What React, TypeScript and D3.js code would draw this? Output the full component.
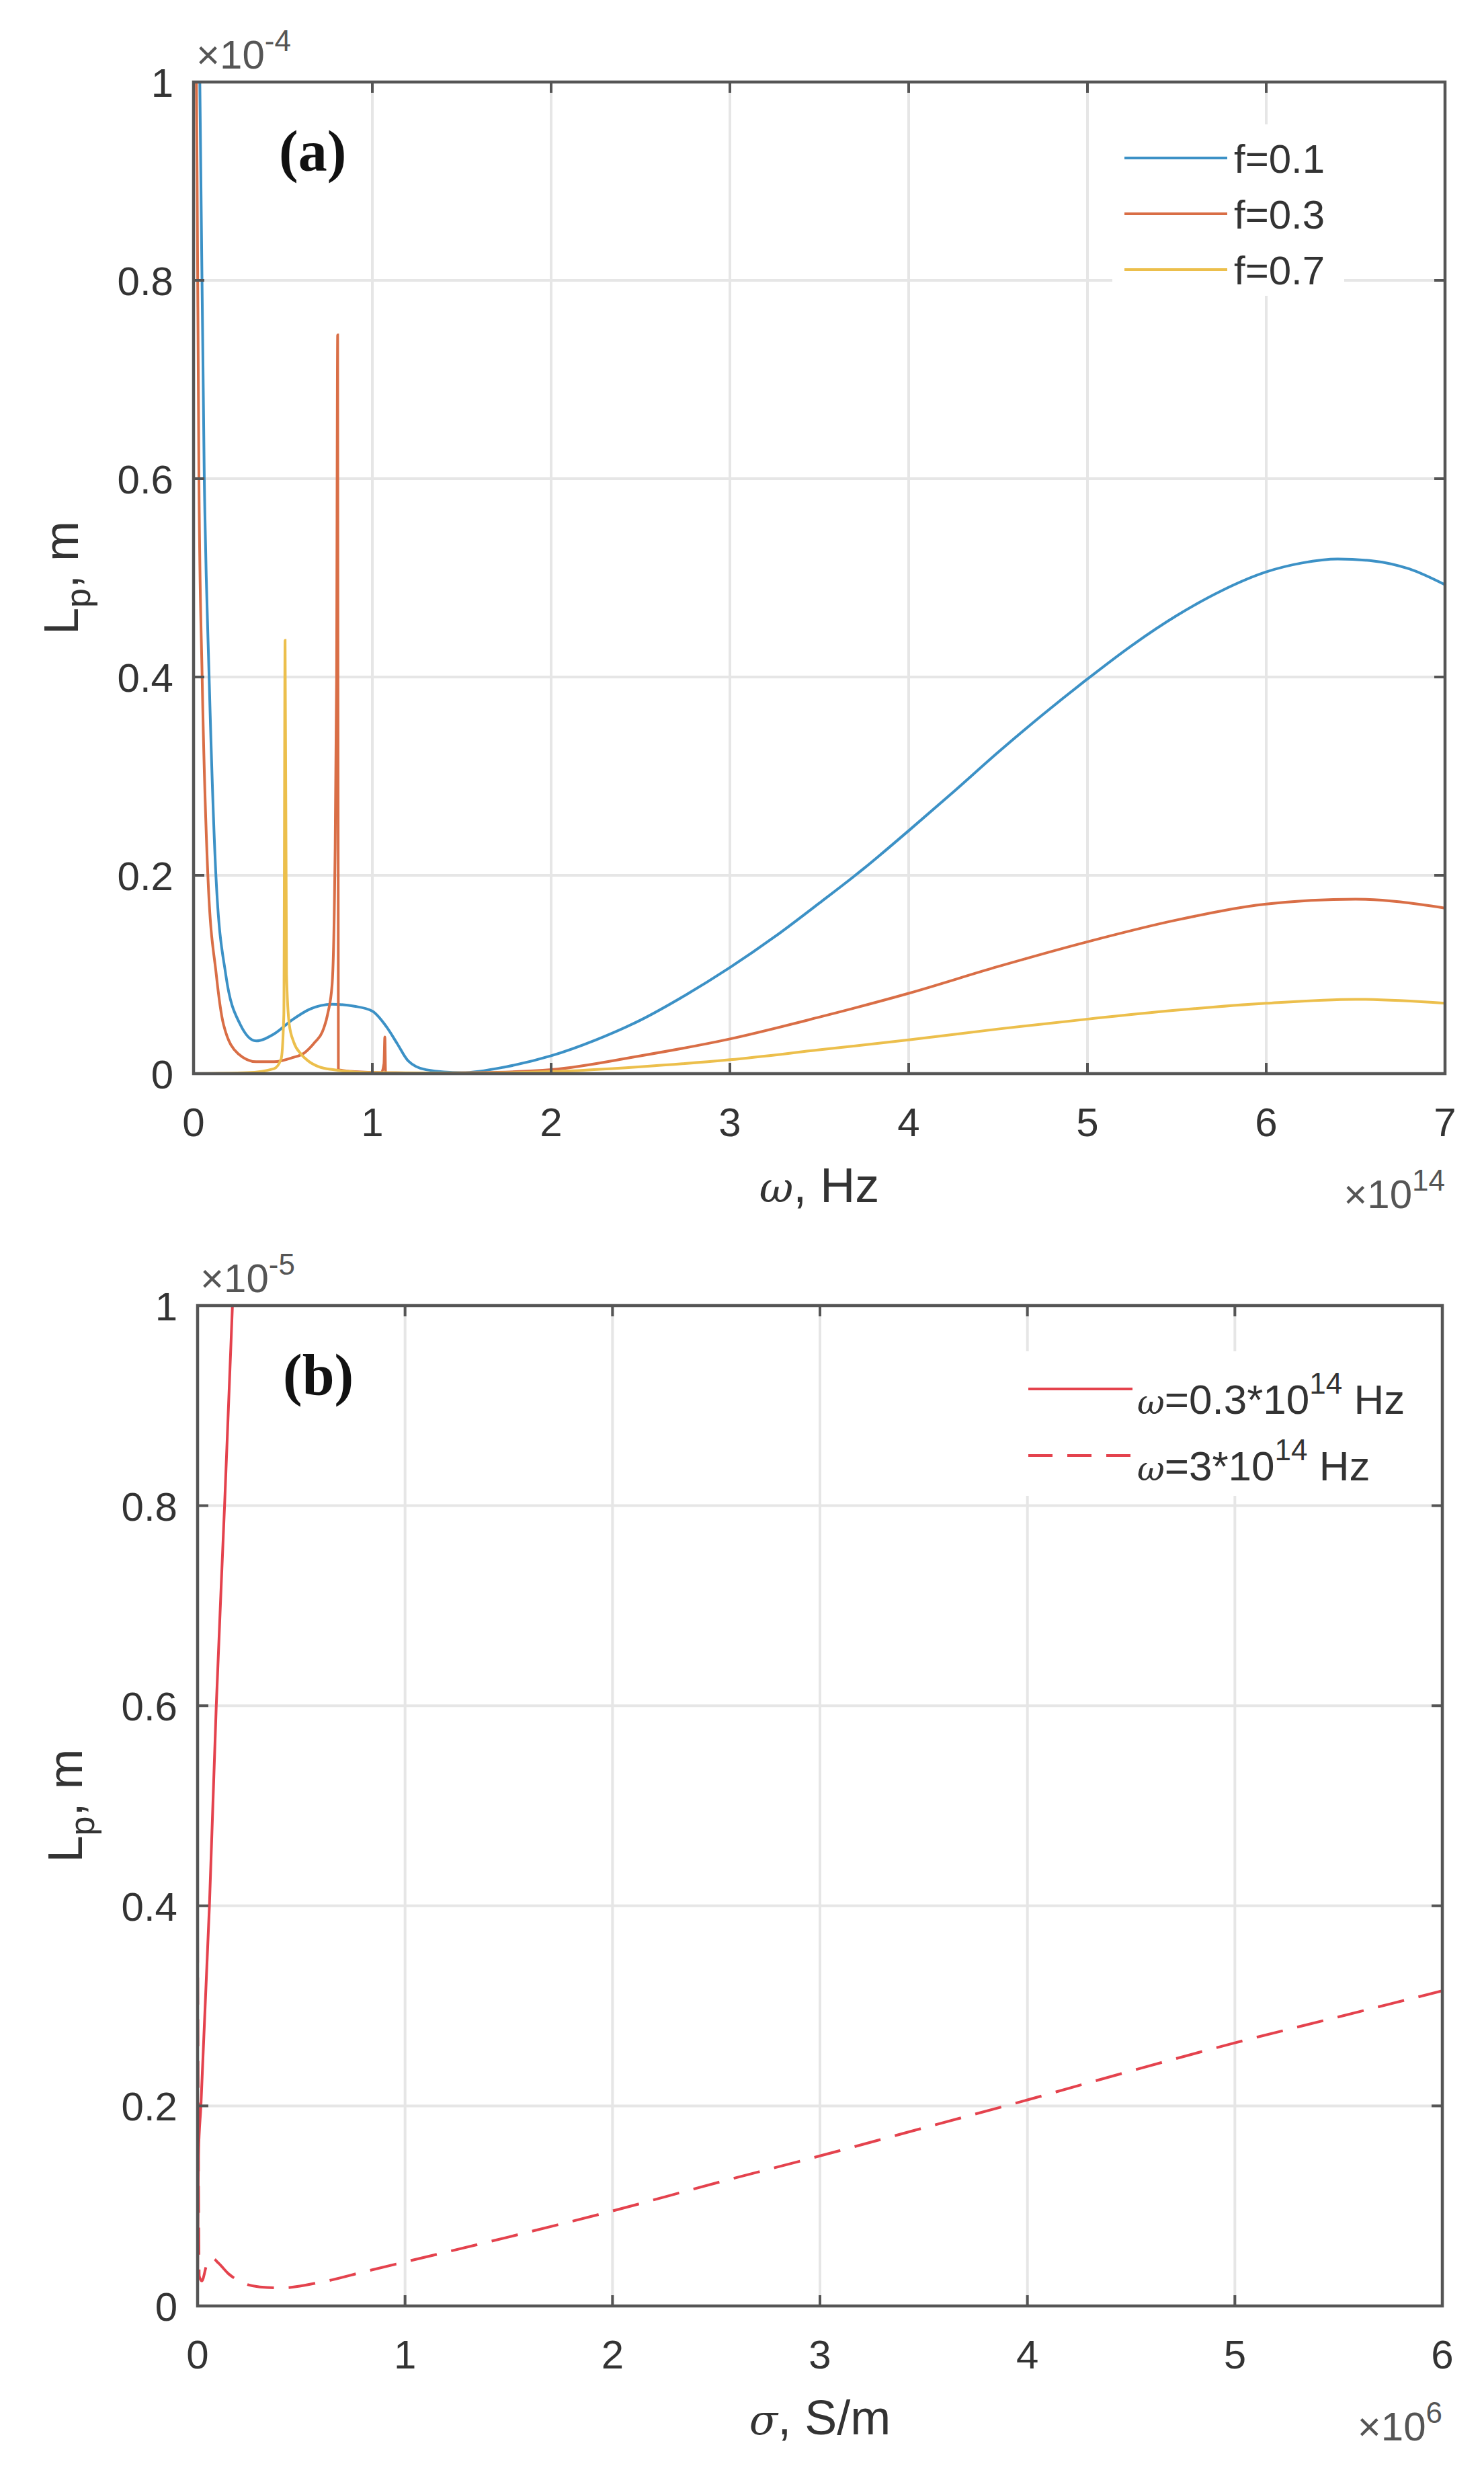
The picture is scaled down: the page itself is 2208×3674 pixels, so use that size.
import * as d3 from "d3";

const W = 2208;
const H = 3674;

// ---- panel (a): L_p (x1e-4 m) vs omega (x1e14 Hz)
const omegaTicks = [0, 1, 2, 3, 4, 5, 6, 7];
const lpTicks = [0, 0.2, 0.4, 0.6, 0.8, 1];

const f01Omega = [0.02, 0.035, 0.06, 0.087, 0.125, 0.18, 0.26, 0.35, 0.45, 0.55, 0.65, 0.775, 0.9, 1.0, 1.08, 1.14, 1.2, 1.3, 1.5, 1.75, 2.0, 2.25, 2.5, 2.75, 3.0, 3.25, 3.5, 3.75, 4.0, 4.25, 4.5, 4.75, 5.0, 5.25, 5.5, 5.75, 6.0, 6.2, 6.4, 6.6, 6.8, 7.0];
const f01Lp = [1.2, 1.0, 0.6, 0.4, 0.2, 0.1, 0.05, 0.033, 0.04, 0.054, 0.065, 0.07, 0.068, 0.063, 0.047, 0.03, 0.013, 0.004, 0.001, 0.007, 0.018, 0.034, 0.054, 0.079, 0.107, 0.138, 0.172, 0.207, 0.245, 0.284, 0.324, 0.362, 0.398, 0.432, 0.462, 0.487, 0.506, 0.515, 0.519, 0.517, 0.509, 0.493];

const f03Omega = [0.008, 0.02, 0.03, 0.048, 0.08, 0.127, 0.167, 0.25, 0.35, 0.45, 0.55, 0.62, 0.68, 0.72, 0.75, 0.775, 0.79, 0.8, 0.806, 0.81, 0.9, 1.05, 1.065, 1.07, 1.074, 1.3, 1.6, 2.0, 2.5, 3.0, 3.5, 4.0, 4.5, 5.0, 5.5, 6.0, 6.5, 7.0];
const f03Lp = [1.2, 0.9, 0.6, 0.4, 0.2, 0.1, 0.05, 0.02, 0.012, 0.012, 0.016, 0.021, 0.032, 0.042, 0.06, 0.09, 0.2, 0.4, 0.745, 0.004, 0.002, 0.001, 0.01, 0.037, 0.001, 0.0005, 0.001, 0.004, 0.018, 0.035, 0.057, 0.081, 0.108, 0.133, 0.155, 0.171, 0.176, 0.167];

const f07Omega = [0, 0.3, 0.45, 0.49, 0.505, 0.512, 0.52, 0.535, 0.56, 0.6, 0.64, 0.7, 0.78, 1.0, 1.5, 2.0, 2.5, 3.0, 3.5, 4.0, 4.5, 5.0, 5.5, 6.0, 6.5, 7.0];
const f07Lp = [0, 0.001, 0.005, 0.015, 0.06, 0.437, 0.1, 0.05, 0.032, 0.02, 0.013, 0.007, 0.004, 0.001, 0.0005, 0.002, 0.007, 0.014, 0.024, 0.034, 0.045, 0.055, 0.064, 0.071, 0.075, 0.071];

// ---- panel (b): L_p (x1e-5 m) vs sigma (x1e6 S/m)
const sigmaTicks = [0, 1, 2, 3, 4, 5, 6];

const sigmaLow = [0, 0.004, 0.016, 0.057, 0.09, 0.13, 0.168, 0.2];
const lpLow = [0.02, 0.15, 0.2, 0.4, 0.6, 0.8, 1.0, 1.17];

const sigmaHigh = [0, 0.003, 0.008, 0.02, 0.045, 0.07, 0.1, 0.15, 0.2, 0.3, 0.4, 0.6, 0.8, 1.0, 1.5, 2.0, 2.5, 3.0, 3.5, 4.0, 4.5, 5.0, 5.5, 6.0];
const lpHigh = [0.37, 0.2, 0.03, 0.025, 0.042, 0.048, 0.043, 0.032, 0.025, 0.019, 0.018, 0.024, 0.034, 0.044, 0.069, 0.095, 0.123, 0.15, 0.178, 0.206, 0.235, 0.263, 0.289, 0.315];

type Series = { name: string; color: string; dash?: string; x: number[]; y: number[] };
type Box = { left: number; top: number; right: number; bottom: number };

const seriesA: Series[] = [
  { name: "f=0.1", color: "#3c91c6", x: f01Omega, y: f01Lp },
  { name: "f=0.3", color: "#d96e46", x: f03Omega, y: f03Lp },
  { name: "f=0.7", color: "#ecbf4c", x: f07Omega, y: f07Lp },
];

const seriesB: Series[] = [
  { name: "0.3", color: "#e4424d", x: sigmaLow, y: lpLow },
  { name: "3", color: "#e4424d", dash: "40 22", x: sigmaHigh, y: lpHigh },
];

const FONT = "'Liberation Sans', Arial, sans-serif";
const TXT = "#333333";
const AXIS = "#555555";
const GRID = "#e6e6e6";

function Panel({
  id,
  box,
  xTicks,
  yTicks,
  series,
  yExp,
  xExp,
  xLabel,
  tag,
}: {
  id: string;
  box: Box;
  xTicks: number[];
  yTicks: number[];
  series: Series[];
  yExp: string;
  xExp: string;
  xLabel: string;
  tag: string;
}) {
  const x = d3.scaleLinear().domain([xTicks[0], xTicks[xTicks.length - 1]]).range([box.left, box.right]);
  const y = d3.scaleLinear().domain([0, 1]).range([box.bottom, box.top]);
  const tickLen = 16;
  const cy = (box.top + box.bottom) / 2;
  const cx = (box.left + box.right) / 2;

  return (
    <g>
      <defs>
        <clipPath id={`clip-${id}`}>
          <rect x={box.left} y={box.top} width={box.right - box.left} height={box.bottom - box.top} />
        </clipPath>
      </defs>
      {/* grid */}
      {xTicks.slice(1, -1).map((t) => (
        <line key={`gx${t}`} x1={x(t)} x2={x(t)} y1={box.top} y2={box.bottom} stroke={GRID} strokeWidth={4} />
      ))}
      {yTicks.slice(1, -1).map((t) => (
        <line key={`gy${t}`} x1={box.left} x2={box.right} y1={y(t)} y2={y(t)} stroke={GRID} strokeWidth={4} />
      ))}
      {/* curves */}
      <g clipPath={`url(#clip-${id})`}>
        {series.map((s) => {
          const pts = s.x.map((v, i) => [v, s.y[i]] as [number, number]);
          const path = d3
            .line<[number, number]>()
            .x((d) => x(d[0]))
            .y((d) => y(d[1]))
            .curve(d3.curveMonotoneX)(pts);
          return (
            <path key={s.name} d={path ?? ""} fill="none" stroke={s.color} strokeWidth={4} strokeDasharray={s.dash} />
          );
        })}
      </g>
      {/* box + ticks */}
      <rect x={box.left} y={box.top} width={box.right - box.left} height={box.bottom - box.top} fill="none" stroke={AXIS} strokeWidth={4.5} />
      {xTicks.map((t) => (
        <g key={`tx${t}`}>
          <line x1={x(t)} x2={x(t)} y1={box.bottom} y2={box.bottom - tickLen} stroke={AXIS} strokeWidth={4} />
          <line x1={x(t)} x2={x(t)} y1={box.top} y2={box.top + tickLen} stroke={AXIS} strokeWidth={4} />
          <text x={x(t)} y={box.bottom + 93} textAnchor="middle" fontSize={60} fill={TXT} fontFamily={FONT}>
            {String(t)}
          </text>
        </g>
      ))}
      {yTicks.map((t) => (
        <g key={`ty${t}`}>
          <line x1={box.left} x2={box.left + tickLen} y1={y(t)} y2={y(t)} stroke={AXIS} strokeWidth={4} />
          <line x1={box.right} x2={box.right - tickLen} y1={y(t)} y2={y(t)} stroke={AXIS} strokeWidth={4} />
          <text x={box.left - 30} y={y(t) + 22} textAnchor="end" fontSize={60} fill={TXT} fontFamily={FONT}>
            {String(t)}
          </text>
        </g>
      ))}
      {/* exponents */}
      <text x={box.left + 4} y={box.top - 20} fontSize={60} fill="#555" fontFamily={FONT}>
        ×10<tspan dy={-26} fontSize={44}>{yExp}</tspan>
      </text>
      <text x={box.right} y={box.bottom + 200} textAnchor="end" fontSize={60} fill="#555" fontFamily={FONT}>
        ×10<tspan dy={-26} fontSize={44}>{xExp}</tspan>
      </text>
      {/* axis labels */}
      <text x={cx} y={box.bottom + 191} textAnchor="middle" fontSize={72} fill={TXT} fontFamily={FONT}>
        <tspan fontStyle="italic" fontSize={62} fontFamily="'DejaVu Serif', serif">{xLabel.split(",")[0]}</tspan>
        <tspan>,{xLabel.split(",")[1]}</tspan>
      </text>
      <text transform={`translate(${box.left - 172},${cy}) rotate(-90)`} textAnchor="middle" fontSize={72} fill={TXT} fontFamily={FONT}>
        L<tspan dy={18} fontSize={52}>p</tspan>
        <tspan dy={-18}>, m</tspan>
      </text>
      {/* panel tag */}
      <text x={box.left + 127} y={box.top + 132} fontSize={86} fontWeight="bold" fill="#111" fontFamily="'Liberation Serif', 'Times New Roman', serif">
        {tag}
      </text>
    </g>
  );
}

export default function App() {
  const boxA: Box = { left: 288, top: 122, right: 2150, bottom: 1597 };
  const boxB: Box = { left: 294, top: 1942, right: 2146, bottom: 3430 };

  const legA = { x: 1673, y0: 235, dy: 83, len: 153 };
  const legB = { x: 1530, y0: 2066, dy: 99, len: 155 };

  return (
    <svg width={W} height={H} viewBox={`0 0 ${W} ${H}`} style={{ position: "absolute", left: 0, top: 0, background: "#fff" }}>
      <rect width={W} height={H} fill="#fff" />
      <Panel id="a" box={boxA} xTicks={omegaTicks} yTicks={lpTicks} series={seriesA} yExp="-4" xExp="14" xLabel="ω, Hz" tag="(a)" />
      <Panel id="b" box={boxB} xTicks={sigmaTicks} yTicks={lpTicks} series={seriesB} yExp="-5" xExp="6" xLabel="σ, S/m" tag="(b)" />

      {/* legend (a) */}
      <rect x={1655} y={185} width={345} height={255} fill="#fff" />
      {seriesA.map((s, i) => (
        <g key={s.name}>
          <line x1={legA.x} x2={legA.x + legA.len} y1={legA.y0 + i * legA.dy} y2={legA.y0 + i * legA.dy} stroke={s.color} strokeWidth={4} />
          <text x={legA.x + legA.len + 10} y={legA.y0 + i * legA.dy + 22} fontSize={60} fill={TXT} fontFamily={FONT}>
            {s.name}
          </text>
        </g>
      ))}

      {/* legend (b) */}
      <rect x={1510} y={2010} width={620} height={215} fill="#fff" />
      {seriesB.map((s, i) => (
        <g key={s.name}>
          <line x1={legB.x} x2={legB.x + legB.len} y1={legB.y0 + i * legB.dy} y2={legB.y0 + i * legB.dy} stroke={s.color} strokeWidth={4} strokeDasharray={s.dash ? "36 22" : undefined} />
          <text x={legB.x + legB.len + 7} y={legB.y0 + i * legB.dy + 37} fontSize={62} fill={TXT} fontFamily={FONT}>
            <tspan fontStyle="italic" fontSize={50} fontFamily="'DejaVu Serif', serif">ω</tspan>
            <tspan>={s.name}*10</tspan>
            <tspan dy={-30} fontSize={44}>14</tspan>
            <tspan dy={30}> Hz</tspan>
          </text>
        </g>
      ))}
    </svg>
  );
}
